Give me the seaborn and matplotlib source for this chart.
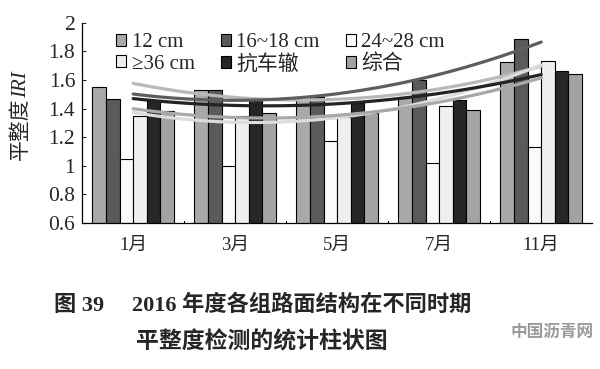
import numpy as np
import pandas as pd
import matplotlib
matplotlib.use('Agg')
import matplotlib.pyplot as plt
import seaborn as sns

# data
months = ['1月', '3月', '5月', '7月', '11月']
series = ['12 cm', '16~18 cm', '24~28 cm', '≥36 cm', '抗车辙', '综合']
v_12 = [1.55, 1.53, 1.47, 1.48, 1.725]
v_16_18 = [1.47, 1.53, 1.48, 1.60, 1.89]
v_24_28 = [1.05, 1.00, 1.17, 1.02, 1.13]
v_36 = [1.35, 1.35, 1.34, 1.42, 1.73]
v_rut = [1.45, 1.46, 1.44, 1.46, 1.66]
v_all = [1.38, 1.37, 1.37, 1.39, 1.64]
values = [v_12, v_16_18, v_24_28, v_36, v_rut, v_all]

bar_colors = ['#a9a9a9', '#5a5a5a', '#fafafa', '#efefef', '#262626', '#a3a3a3']
trend_colors = {'12 cm': '#b9b9b9', '16~18 cm': '#5e5e5e', '≥36 cm': '#dcdcdc',
                '抗车辙': '#232323', '综合': '#a8a8a8'}

rows = []
for s, vals in zip(series, values):
    for m, v in zip(months, vals):
        rows.append({'月份': m, '结构': s, 'IRI': v})
df = pd.DataFrame(rows)

sns.set_style('white')
fam = ['Liberation Serif', 'Noto Sans CJK SC']
plt.rcParams['font.family'] = fam

fig = plt.figure(figsize=(6, 3.69), dpi=100)
ax = fig.add_axes([0.137, 0.396, 0.85, 0.542])

sns.barplot(data=df, x='月份', y='IRI', hue='结构', hue_order=series,
            palette=bar_colors, edgecolor='black', linewidth=0.8,
            width=0.8, saturation=1, ax=ax, legend=True)

# polynomial (order 2) trend lines
xs = np.linspace(0, 4, 60)
for s, vals in zip(series, values):
    if s not in trend_colors:
        continue
    coef = np.polyfit(np.arange(len(vals)), vals, 2)
    sns.lineplot(x=xs, y=np.polyval(coef, xs), color=trend_colors[s],
                 linewidth=2.3, ax=ax, legend=False)

ax.set_xlim(-0.5, 4.5)
ax.set_ylim(0.6, 2.0)
ticks = [0.6, 0.8, 1.0, 1.2, 1.4, 1.6, 1.8, 2.0]
ax.set_yticks(ticks)
ax.set_yticklabels(['0.6', '0.8', '1', '1.2', '1.4', '1.6', '1.8', '2'], fontsize=15.5)
ax.set_xticks(range(len(months)))
ax.set_xticklabels(months, fontsize=13.5)
ax.tick_params(axis='x', length=0, pad=10)
ax.tick_params(axis='y', direction='in', length=3, width=0.8, pad=5, left=True)
for b in [0.5, 1.5, 2.5, 3.5, 4.5]:
    ax.plot([b, b], [0.6, 0.615], color='black', lw=0.8)
ax.set_xlabel('')
ax.set_ylabel('')
sns.despine(ax=ax)
for sp in ['left', 'bottom']:
    ax.spines[sp].set_color('black')
    ax.spines[sp].set_linewidth(0.9)

# y label: 平整度 + italic IRI
fig.text(0.036, 0.735, '平整度', rotation=90, rotation_mode='anchor',
         ha='right', va='center', fontsize=15, family=fam)
fig.text(0.036, 0.735, 'IRI', rotation=90, rotation_mode='anchor',
         ha='left', va='center', fontsize=15, style='italic', family=fam)

h, l = ax.get_legend_handles_labels()
order = [0, 3, 1, 4, 2, 5]
ax.legend([h[i] for i in order], [l[i] for i in order], ncol=3,
          loc='upper left', bbox_to_anchor=(0.05, 0.99), frameon=False,
          fontsize=15, handlelength=0.5, handleheight=0.5,
          handletextpad=0.25, columnspacing=1.25, labelspacing=0.12,
          borderaxespad=0)

fig.text(0.437, 0.172, '图 39\u2003 2016 年度各组路面结构在不同时期', ha='center',
         va='center', fontsize=16, fontweight='bold', family=fam)
fig.text(0.437, 0.073, '平整度检测的统计柱状图', ha='center', va='center',
         fontsize=16.5, fontweight='bold', family=['Noto Sans CJK SC'])
fig.text(0.92, 0.1, '中国沥青网', ha='center', va='center', fontsize=12,
         color='#9a9a9a', fontweight='bold', family=['Noto Sans CJK SC'])

fig.savefig('out.png', dpi=100)
